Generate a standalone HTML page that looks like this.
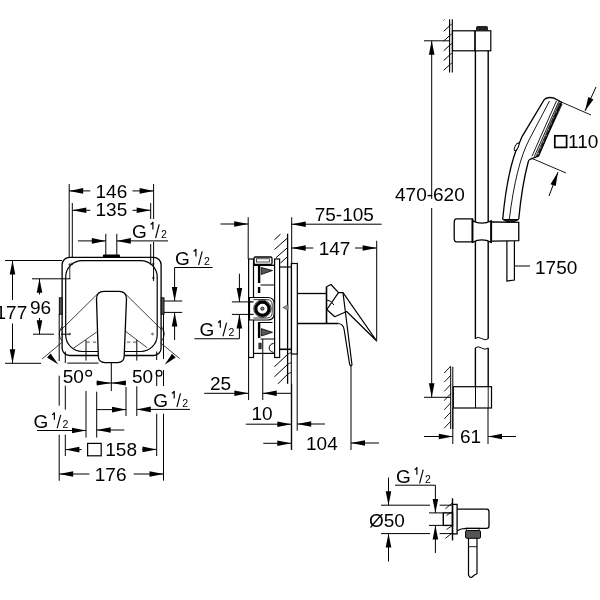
<!DOCTYPE html>
<html><head><meta charset="utf-8"><style>
html,body{margin:0;padding:0;background:#fff;width:600px;height:600px;overflow:hidden}
svg{display:block;will-change:transform}
text{font-family:"Liberation Sans",sans-serif;fill:#000;stroke:none}
</style></head><body>
<svg width="600" height="600" viewBox="0 0 600 600" stroke="#000" fill="none">
<line x1="69.2" y1="184" x2="69.2" y2="257.3" stroke-width="1.0"/>
<line x1="72.3" y1="203" x2="72.3" y2="257.3" stroke-width="1.0"/>
<line x1="69.8" y1="264" x2="69.8" y2="279" stroke-width="0.8"/>
<line x1="153.6" y1="184" x2="153.6" y2="219" stroke-width="1.0"/>
<line x1="153.6" y1="242" x2="153.6" y2="281" stroke-width="1.0"/>
<line x1="150.7" y1="203" x2="150.7" y2="219" stroke-width="1.0"/>
<line x1="150.7" y1="244" x2="150.7" y2="265" stroke-width="1.0"/>
<line x1="90.3" y1="190.9" x2="69.2" y2="190.9" stroke-width="1.0"/>
<polygon points="69.2,190.9 83.2,188.1 83.2,193.7" fill="#000" stroke="none"/>
<line x1="132.5" y1="190.9" x2="153.6" y2="190.9" stroke-width="1.0"/>
<polygon points="153.6,190.9 139.6,193.7 139.6,188.1" fill="#000" stroke="none"/>
<text x="95.5" y="197.8" font-size="19" text-anchor="start" >146</text>
<line x1="90.3" y1="210.3" x2="72.3" y2="210.3" stroke-width="1.0"/>
<polygon points="72.3,210.3 86.3,207.5 86.3,213.1" fill="#000" stroke="none"/>
<line x1="132.5" y1="210.3" x2="150.7" y2="210.3" stroke-width="1.0"/>
<polygon points="150.7,210.3 136.7,213.1 136.7,207.5" fill="#000" stroke="none"/>
<text x="95.5" y="216.3" font-size="19" text-anchor="start" >135</text>
<line x1="105.8" y1="233.8" x2="105.8" y2="255" stroke-width="1.0"/>
<line x1="116.8" y1="233.8" x2="116.8" y2="255" stroke-width="1.0"/>
<line x1="77.9" y1="240.9" x2="105.8" y2="240.9" stroke-width="1.0"/>
<polygon points="105.8,240.9 91.8,243.7 91.8,238.1" fill="#000" stroke="none"/>
<line x1="168" y1="240.9" x2="116.8" y2="240.9" stroke-width="1.0"/>
<polygon points="116.8,240.9 130.8,238.1 130.8,243.7" fill="#000" stroke="none"/>
<text x="132" y="238" font-size="19" text-anchor="start" >G</text>
<path d="M 150.6,224.4 Q 152.3,223.7 152.9,222 L 152.9,229.4" fill="none" stroke-width="1.2" />
<line x1="155.6" y1="238" x2="159.2" y2="224.4" stroke-width="1.15"/>
<text x="161" y="238" font-size="10.5" text-anchor="start" >2</text>
<rect x="102.9" y="254.6" width="17.1" height="3.2" rx="1" fill="#000" stroke="none"/>
<rect x="62.1" y="257.3" width="99" height="98.2" rx="7.5" fill="none" stroke-width="1.3"/>
<rect x="65.7" y="260.6" width="91.5" height="90.9" rx="16.5" fill="none" stroke-width="1.2"/>
<circle cx="69.8" cy="264.5" r="0.9" fill="none" stroke-width="0.6"/>
<circle cx="153.3" cy="278" r="0.9" fill="none" stroke-width="0.6"/>
<circle cx="69.8" cy="334" r="0.9" fill="none" stroke-width="0.6"/>
<circle cx="152.5" cy="334" r="0.9" fill="none" stroke-width="0.6"/>
<circle cx="72" cy="264" r="0.9" fill="none" stroke-width="0.6"/>
<circle cx="153" cy="264" r="0.9" fill="none" stroke-width="0.6"/>
<rect x="59.3" y="297.8" width="2.8" height="16.4" rx="0" fill="#555" stroke-width="0.9"/>
<rect x="161.2" y="297.8" width="2.8" height="16.4" rx="0" fill="#555" stroke-width="0.9"/>
<line x1="97" y1="294.5" x2="60.5" y2="330.5" stroke-width="0.75"/>
<path d="M 62,326.5 Q 56.5,334 62,341" fill="none" stroke-width="0.8" />
<line x1="61.5" y1="342.8" x2="42" y2="359" stroke-width="0.75"/>
<polygon points="58.3,364.4 47.05,357.38 50.62,353.59" fill="#000" stroke="none"/>
<line x1="126" y1="294.5" x2="162.5" y2="330.5" stroke-width="0.75"/>
<path d="M 161.5,326.5 Q 167,334 161.5,341" fill="none" stroke-width="0.8" />
<line x1="160.5" y1="342.8" x2="179.6" y2="358.5" stroke-width="0.75"/>
<polygon points="164.7,364.8 171.99,353.73 175.69,357.38" fill="#000" stroke="none"/>
<line x1="73.5" y1="348.2" x2="96.75" y2="332" stroke-width="0.75"/>
<line x1="124.9" y1="330.8" x2="147" y2="347.6" stroke-width="0.75"/>
<line x1="86.5" y1="342.2" x2="89.8" y2="342.2" stroke-width="1.8" stroke="#9a9a9a"/>
<line x1="92.8" y1="342.2" x2="96.2" y2="342.2" stroke-width="1.8" stroke="#9a9a9a"/>
<line x1="127" y1="342.2" x2="130.5" y2="342.2" stroke-width="1.8" stroke="#9a9a9a"/>
<line x1="133" y1="342.2" x2="136.5" y2="342.2" stroke-width="1.8" stroke="#9a9a9a"/>
<line x1="67.3" y1="363.1" x2="98.5" y2="363.1" stroke-width="1.0"/>
<path d="M 96.5,299 Q 96.5,291.4 104,291.4 L 119,291.4 Q 126.5,291.4 126.5,299 L 124.2,356 Q 124,362.6 117.5,362.6 L 105,362.6 Q 98.5,362.6 98.3,356 Z" fill="#fff" stroke-width="1.3" />
<line x1="174.6" y1="267.5" x2="212.5" y2="267.5" stroke-width="1.0"/>
<line x1="174.6" y1="267.5" x2="174.6" y2="301" stroke-width="1.0"/>
<polygon points="174.6,301 171.8,287 177.4,287" fill="#000" stroke="none"/>
<line x1="164" y1="301" x2="182.2" y2="301" stroke-width="1.0"/>
<line x1="164" y1="312.4" x2="182.2" y2="312.4" stroke-width="1.0"/>
<line x1="174.6" y1="340" x2="174.6" y2="312.4" stroke-width="1.0"/>
<polygon points="174.6,312.4 177.4,326.4 171.8,326.4" fill="#000" stroke="none"/>
<text x="175" y="265" font-size="19" text-anchor="start" >G</text>
<path d="M 193.6,251.4 Q 195.3,250.7 195.9,249 L 195.9,256.4" fill="none" stroke-width="1.2" />
<line x1="198.6" y1="265" x2="202.2" y2="251.4" stroke-width="1.15"/>
<text x="204" y="265" font-size="10.5" text-anchor="start" >2</text>
<line x1="5" y1="260.5" x2="62" y2="260.5" stroke-width="1.0"/>
<line x1="5" y1="363.3" x2="41" y2="363.3" stroke-width="1.0"/>
<line x1="12.5" y1="300" x2="12.5" y2="260.5" stroke-width="1.0"/>
<polygon points="12.5,260.5 15.3,274.5 9.7,274.5" fill="#000" stroke="none"/>
<line x1="12.5" y1="323.5" x2="12.5" y2="363.3" stroke-width="1.0"/>
<polygon points="12.5,363.3 9.7,349.3 15.3,349.3" fill="#000" stroke="none"/>
<text x="-4.5" y="319" font-size="19" text-anchor="start" >177</text>
<line x1="32" y1="278.8" x2="70.4" y2="278.8" stroke-width="1.0"/>
<line x1="33" y1="334.2" x2="54" y2="334.2" stroke-width="1.0"/>
<line x1="61" y1="334.2" x2="69.7" y2="334.2" stroke-width="1.0"/>
<line x1="39.5" y1="294.5" x2="39.5" y2="278.8" stroke-width="1.0"/>
<polygon points="39.5,278.8 42.3,292.8 36.7,292.8" fill="#000" stroke="none"/>
<line x1="39.5" y1="318" x2="39.5" y2="334.2" stroke-width="1.0"/>
<polygon points="39.5,334.2 36.7,320.2 42.3,320.2" fill="#000" stroke="none"/>
<text x="30" y="314" font-size="19" text-anchor="start" >96</text>
<text x="62.7" y="383" font-size="19" text-anchor="start" >50</text>
<circle cx="88.7" cy="373.3" r="2.9" fill="none" stroke-width="1.2"/>
<text x="132" y="383" font-size="19" text-anchor="start" >50</text>
<circle cx="159" cy="373.3" r="2.9" fill="none" stroke-width="1.2"/>
<line x1="111.3" y1="362.6" x2="111.3" y2="391" stroke-width="1.0"/>
<line x1="96.7" y1="383" x2="126" y2="383" stroke-width="1.0"/>
<polygon points="111.3,383 96.7,385.4 96.7,380.6" fill="#000" stroke="none"/>
<polygon points="111.3,383 125.9,380.6 125.9,385.4" fill="#000" stroke="none"/>
<line x1="59.2" y1="314" x2="59.2" y2="361" stroke-width="1.0"/>
<line x1="59.2" y1="375.7" x2="59.2" y2="405.7" stroke-width="1.0"/>
<line x1="59.2" y1="434.7" x2="59.2" y2="480.8" stroke-width="1.0"/>
<line x1="65.3" y1="351.5" x2="65.3" y2="363" stroke-width="1.0"/>
<line x1="65.3" y1="385.7" x2="65.3" y2="409.7" stroke-width="1.0"/>
<line x1="65.3" y1="434.7" x2="65.3" y2="456" stroke-width="1.0"/>
<line x1="86" y1="340" x2="86" y2="360.6" stroke-width="1.0"/>
<line x1="86" y1="391" x2="86" y2="437.6" stroke-width="1.0"/>
<line x1="96.7" y1="391.7" x2="96.7" y2="437.6" stroke-width="1.0"/>
<line x1="126" y1="387" x2="126" y2="416" stroke-width="1.0"/>
<line x1="136.8" y1="340" x2="136.8" y2="360.6" stroke-width="1.0"/>
<line x1="136.8" y1="386.3" x2="136.8" y2="416" stroke-width="1.0"/>
<line x1="156.7" y1="351.5" x2="156.7" y2="360" stroke-width="1.0"/>
<line x1="156.7" y1="370" x2="156.7" y2="386" stroke-width="1.0"/>
<line x1="156.7" y1="413.7" x2="156.7" y2="456" stroke-width="1.0"/>
<line x1="163.5" y1="314" x2="163.5" y2="359" stroke-width="1.0"/>
<line x1="163.5" y1="370" x2="163.5" y2="386" stroke-width="1.0"/>
<line x1="163.5" y1="413.7" x2="163.5" y2="480.7" stroke-width="1.0"/>
<line x1="37" y1="430.5" x2="86" y2="430.5" stroke-width="1.0"/>
<polygon points="86,430.5 72,433.3 72,427.7" fill="#000" stroke="none"/>
<line x1="124.3" y1="430" x2="96.7" y2="430" stroke-width="1.0"/>
<polygon points="96.7,430 110.7,427.2 110.7,432.8" fill="#000" stroke="none"/>
<text x="33.5" y="428.4" font-size="19" text-anchor="start" >G</text>
<path d="M 52.1,414.8 Q 53.8,414.1 54.4,412.4 L 54.4,419.8" fill="none" stroke-width="1.2" />
<line x1="57.1" y1="428.4" x2="60.7" y2="414.8" stroke-width="1.15"/>
<text x="62.5" y="428.4" font-size="10.5" text-anchor="start" >2</text>
<line x1="96.7" y1="409.6" x2="126" y2="409.6" stroke-width="1.0"/>
<polygon points="126,409.6 112,412.4 112,406.8" fill="#000" stroke="none"/>
<line x1="190" y1="409.4" x2="136.8" y2="409.4" stroke-width="1.0"/>
<polygon points="136.8,409.4 150.8,406.6 150.8,412.2" fill="#000" stroke="none"/>
<text x="153.3" y="407" font-size="19" text-anchor="start" >G</text>
<path d="M 171.9,393.4 Q 173.6,392.7 174.2,391 L 174.2,398.4" fill="none" stroke-width="1.2" />
<line x1="176.9" y1="407" x2="180.5" y2="393.4" stroke-width="1.15"/>
<text x="182.3" y="407" font-size="10.5" text-anchor="start" >2</text>
<line x1="81.7" y1="449.6" x2="65.4" y2="449.6" stroke-width="1.0"/>
<polygon points="65.4,449.6 79.4,446.8 79.4,452.4" fill="#000" stroke="none"/>
<line x1="142.3" y1="449.4" x2="156.5" y2="449.4" stroke-width="1.0"/>
<polygon points="156.5,449.4 142.5,452.2 142.5,446.6" fill="#000" stroke="none"/>
<rect x="87.6" y="443.4" width="13.6" height="12.4" rx="0" fill="none" stroke-width="1.2"/>
<text x="105.3" y="456.3" font-size="19" text-anchor="start" >158</text>
<line x1="89.4" y1="474" x2="59.2" y2="474" stroke-width="1.0"/>
<polygon points="59.2,474 73.2,471.2 73.2,476.8" fill="#000" stroke="none"/>
<line x1="133.7" y1="474" x2="163.5" y2="474" stroke-width="1.0"/>
<polygon points="163.5,474 149.5,476.8 149.5,471.2" fill="#000" stroke="none"/>
<text x="94.8" y="480.8" font-size="19" text-anchor="start" >176</text>
<line x1="220.5" y1="224" x2="248.2" y2="224" stroke-width="1.0"/>
<polygon points="248.2,224 234.2,226.8 234.2,221.2" fill="#000" stroke="none"/>
<line x1="248.2" y1="217.2" x2="248.2" y2="259" stroke-width="1.0"/>
<line x1="291.7" y1="217.2" x2="291.7" y2="263" stroke-width="1.0"/>
<line x1="381.7" y1="224.2" x2="291.7" y2="224.2" stroke-width="1.0"/>
<polygon points="291.7,224.2 305.7,221.4 305.7,227" fill="#000" stroke="none"/>
<text x="314.7" y="220.8" font-size="19" text-anchor="start" >75-105</text>
<line x1="313.3" y1="248" x2="291.7" y2="248" stroke-width="1.0"/>
<polygon points="291.7,248 305.7,245.2 305.7,250.8" fill="#000" stroke="none"/>
<line x1="355" y1="248" x2="376.7" y2="248" stroke-width="1.0"/>
<polygon points="376.7,248 362.7,250.8 362.7,245.2" fill="#000" stroke="none"/>
<text x="318.7" y="255" font-size="19" text-anchor="start" >147</text>
<line x1="376.7" y1="240.8" x2="376.7" y2="340" stroke-width="1.0"/>
<line x1="287.6" y1="233.7" x2="287.6" y2="383.8" stroke-width="1.3"/>
<line x1="291.3" y1="263" x2="291.3" y2="450" stroke-width="1.0"/>
<line x1="274.5" y1="239.7" x2="280.5" y2="234.2" stroke-width="1.0"/>
<line x1="274.5" y1="249.5" x2="288" y2="237.5" stroke-width="1.0"/>
<line x1="276" y1="257.7" x2="288" y2="247.2" stroke-width="1.0"/>
<line x1="280.5" y1="263" x2="288" y2="256.2" stroke-width="1.0"/>
<line x1="274.4" y1="366.8" x2="288" y2="354" stroke-width="1.0"/>
<line x1="274.4" y1="376.8" x2="288" y2="364" stroke-width="1.0"/>
<line x1="278" y1="383.8" x2="288" y2="373.8" stroke-width="1.0"/>
<line x1="288" y1="354" x2="291.3" y2="352.5" stroke-width="0.8"/>
<line x1="288" y1="364" x2="291.3" y2="362.5" stroke-width="0.8"/>
<line x1="288" y1="373.8" x2="291.3" y2="372.3" stroke-width="0.8"/>
<line x1="280" y1="267" x2="292" y2="267" stroke-width="1.2"/>
<line x1="280" y1="349.3" x2="292" y2="349.3" stroke-width="1.6"/>
<rect x="248.6" y="259" width="4.9" height="98.5" rx="0" fill="none" stroke-width="1.2"/>
<rect x="274.6" y="259" width="5" height="98.5" rx="0" fill="none" stroke-width="1.2"/>
<rect x="291.5" y="263.5" width="5.8" height="90.5" rx="0" fill="none" stroke-width="1.2"/>
<rect x="254" y="257" width="18" height="7.5" rx="1.5" fill="none" stroke-width="1.3"/>
<rect x="256.5" y="258.8" width="13" height="3.2" rx="0" fill="none" stroke-width="0.7"/>
<line x1="253.5" y1="265.3" x2="274.6" y2="265.3" stroke-width="1.4"/>
<line x1="253.5" y1="353.4" x2="274.6" y2="353.4" stroke-width="1.2"/>
<rect x="257.9" y="266" width="2.4" height="17" rx="0" fill="#000" stroke="none"/>
<rect x="257.9" y="287" width="2.4" height="6" rx="0" fill="#000" stroke="none"/>
<line x1="260.5" y1="285" x2="274.6" y2="285" stroke-width="1.0"/>
<polygon points="261.3,267.5 261.3,274.5 272.5,270.5" fill="#555" stroke="#000" stroke-width="0.8"/>
<polygon points="282.8,307.5 288,304.8 288,310.2" fill="#999" stroke="#333" stroke-width="0.6"/>
<path d="M 249.5,297.5 L 267.5,297.5 Q 274.2,297.5 274.2,304 L 274.2,313.5 Q 274.2,320 267.5,320 L 249.5,320 Z" fill="#fff" stroke-width="1.2"/>
<path d="M 253.5,299.6 L 266.8,299.6 Q 272.2,299.6 272.2,305 L 272.2,312.5 Q 272.2,318 266.8,318 L 253.5,318" fill="none" stroke-width="0.8" />
<line x1="249.5" y1="301.9" x2="253.5" y2="301.9" stroke-width="0.8"/>
<line x1="249.5" y1="314.4" x2="253.5" y2="314.4" stroke-width="0.8"/>
<circle cx="262.4" cy="308.7" r="6.6" fill="none" stroke-width="3.2"/>
<circle cx="262.4" cy="308.7" r="8.7" fill="none" stroke-width="0.7"/>
<circle cx="262.4" cy="308.7" r="1.6" fill="#888" stroke-width="0.8"/>
<rect x="257.9" y="323" width="2.4" height="15" rx="0" fill="#000" stroke="none"/>
<line x1="253.5" y1="320" x2="253.5" y2="353.4" stroke-width="1.0"/>
<polygon points="261.3,328.6 261.3,336 272.5,332.3" fill="#555" stroke="#000" stroke-width="0.8"/>
<line x1="257.9" y1="322.5" x2="272.5" y2="322.5" stroke-width="1.0"/>
<line x1="260.5" y1="339" x2="274.6" y2="339" stroke-width="1.0"/>
<rect x="258.4" y="342.7" width="3.3" height="6.5" rx="0" fill="#333" stroke="none"/>
<path d="M 273.6,343.5 A 4.3,4.3 0 0 0 273.6,352.3" fill="none" stroke-width="1.0" />
<line x1="231.9" y1="301.9" x2="248.6" y2="301.9" stroke-width="1.0"/>
<line x1="231.9" y1="314.4" x2="248.6" y2="314.4" stroke-width="1.0"/>
<line x1="248.6" y1="301.9" x2="253.5" y2="301.9" stroke-width="0.8"/>
<line x1="248.6" y1="314.4" x2="253.5" y2="314.4" stroke-width="0.8"/>
<line x1="239.4" y1="273.75" x2="239.4" y2="301.9" stroke-width="1.0"/>
<polygon points="239.4,301.9 236.6,287.9 242.2,287.9" fill="#000" stroke="none"/>
<line x1="239.4" y1="338.75" x2="239.4" y2="314.4" stroke-width="1.0"/>
<polygon points="239.4,314.4 242.2,328.4 236.6,328.4" fill="#000" stroke="none"/>
<line x1="194.4" y1="338.75" x2="239.4" y2="338.75" stroke-width="1.0"/>
<text x="199.4" y="336.25" font-size="19" text-anchor="start" >G</text>
<path d="M 218,322.65 Q 219.7,321.95 220.3,320.25 L 220.3,327.65" fill="none" stroke-width="1.2" />
<line x1="223" y1="336.25" x2="226.6" y2="322.65" stroke-width="1.15"/>
<text x="228.4" y="336.25" font-size="10.5" text-anchor="start" >2</text>
<line x1="248.6" y1="357.5" x2="248.6" y2="400" stroke-width="1.0"/>
<line x1="262.75" y1="339" x2="262.75" y2="400" stroke-width="1.0"/>
<line x1="297.2" y1="354" x2="297.2" y2="430.8" stroke-width="1.0"/>
<line x1="297.25" y1="293.5" x2="326.5" y2="293.5" stroke-width="1.3"/>
<line x1="297.25" y1="323.5" x2="338.5" y2="323.5" stroke-width="1.3"/>
<line x1="326.5" y1="286.7" x2="326.5" y2="323.5" stroke-width="1.6"/>
<polyline points="326.5,286.7 331,284.5 338.5,292.7 343,292.7 376.7,341 346.7,311.5 334.7,316.7 326.5,309.2" fill="none" stroke-width="1.2" stroke-linejoin="round"/>
<line x1="338.5" y1="292.7" x2="326.5" y2="310" stroke-width="1.2"/>
<path d="M 326.5,300 Q 331,300 334,305" fill="none" stroke-width="1.0" />
<path d="M 338.5,323.5 Q 343.5,324 344.2,330 L 349.6,364 Q 350.5,367 352,365 L 343,292.7" fill="none" stroke-width="1.2" />
<line x1="204.2" y1="393.3" x2="248.4" y2="393.3" stroke-width="1.0"/>
<polygon points="248.4,393.3 234.4,396.1 234.4,390.5" fill="#000" stroke="none"/>
<line x1="291.5" y1="393.3" x2="262.75" y2="393.3" stroke-width="1.0"/>
<polygon points="262.75,393.3 276.75,390.5 276.75,396.1" fill="#000" stroke="none"/>
<text x="210" y="390" font-size="19" text-anchor="start" >25</text>
<line x1="291.7" y1="383.8" x2="291.7" y2="450" stroke-width="1.0"/>
<line x1="245.8" y1="424.2" x2="291.3" y2="424.2" stroke-width="1.0"/>
<polygon points="291.3,424.2 277.3,427 277.3,421.4" fill="#000" stroke="none"/>
<line x1="325" y1="424" x2="297.2" y2="424" stroke-width="1.0"/>
<polygon points="297.2,424 311.2,421.2 311.2,426.8" fill="#000" stroke="none"/>
<text x="251.5" y="420" font-size="19" text-anchor="start" >10</text>
<line x1="263.3" y1="443.3" x2="291.3" y2="443.3" stroke-width="1.0"/>
<polygon points="291.3,443.3 277.3,446.1 277.3,440.5" fill="#000" stroke="none"/>
<line x1="379" y1="443" x2="351" y2="443" stroke-width="1.0"/>
<polygon points="351,443 365,440.2 365,445.8" fill="#000" stroke="none"/>
<line x1="351" y1="365" x2="351" y2="450" stroke-width="1.0"/>
<text x="306" y="450" font-size="19" text-anchor="start" >104</text>
<line x1="449.6" y1="19.3" x2="449.6" y2="72.4" stroke-width="1.1"/>
<line x1="452.3" y1="19.3" x2="452.3" y2="72.4" stroke-width="1.1"/>
<line x1="443.7" y1="31.3" x2="449.6" y2="25.8" stroke-width="1.0"/>
<line x1="449.6" y1="25.8" x2="452.3" y2="23.6" stroke-width="0.8"/>
<line x1="443.7" y1="41.05" x2="449.6" y2="35.55" stroke-width="1.0"/>
<line x1="449.6" y1="35.55" x2="452.3" y2="33.35" stroke-width="0.8"/>
<line x1="443.7" y1="50.8" x2="449.6" y2="45.3" stroke-width="1.0"/>
<line x1="449.6" y1="45.3" x2="452.3" y2="43.1" stroke-width="0.8"/>
<line x1="443.7" y1="60.55" x2="449.6" y2="55.05" stroke-width="1.0"/>
<line x1="449.6" y1="55.05" x2="452.3" y2="52.85" stroke-width="0.8"/>
<line x1="443.7" y1="70.3" x2="449.6" y2="64.8" stroke-width="1.0"/>
<line x1="449.6" y1="64.8" x2="452.3" y2="62.6" stroke-width="0.8"/>
<line x1="443.5" y1="20.5" x2="444.5" y2="19.5" stroke-width="0.8"/>
<rect x="452.5" y="30.8" width="22.5" height="20" rx="0" fill="none" stroke-width="1.2"/>
<rect x="475" y="30.8" width="15.8" height="20" rx="0" fill="none" stroke-width="1.2"/>
<rect x="476" y="26" width="12" height="5" rx="1.5" fill="#222" stroke="none"/>
<line x1="475.4" y1="50.8" x2="475.4" y2="338.7" stroke-width="1.4"/>
<line x1="488.2" y1="50.8" x2="488.2" y2="338.7" stroke-width="1.4"/>
<line x1="475.4" y1="348" x2="475.4" y2="386.7" stroke-width="1.4"/>
<line x1="488.2" y1="348" x2="488.2" y2="386.7" stroke-width="1.4"/>
<path d="M 475,338.7 Q 478,336 481.6,338.5 Q 485,341 488.3,338.7" fill="none" stroke-width="1.0" />
<path d="M 475,348 Q 478,345.5 481.6,348 Q 485,350.5 488.3,348" fill="none" stroke-width="1.0" />
<line x1="424" y1="40.8" x2="450" y2="40.8" stroke-width="1.0"/>
<line x1="431.7" y1="199" x2="431.7" y2="40.8" stroke-width="1.0"/>
<polygon points="431.7,40.8 434.5,54.8 428.9,54.8" fill="#000" stroke="none"/>
<line x1="431.7" y1="208" x2="431.7" y2="397.3" stroke-width="1.0"/>
<polygon points="431.7,397.3 428.9,383.3 434.5,383.3" fill="#000" stroke="none"/>
<text x="395" y="201" font-size="19" text-anchor="start" >470-620</text>
<rect x="453.3" y="386.7" width="38.2" height="21.3" rx="0" fill="none" stroke-width="1.2"/>
<line x1="475.5" y1="386.7" x2="475.5" y2="408" stroke-width="1.0"/>
<line x1="450.7" y1="366.7" x2="450.7" y2="429" stroke-width="1.0"/>
<line x1="452.8" y1="366.7" x2="452.8" y2="429" stroke-width="1.0"/>
<line x1="444.2" y1="373" x2="450.8" y2="366" stroke-width="0.9"/>
<line x1="444.2" y1="382.2" x2="450.8" y2="375.2" stroke-width="0.9"/>
<line x1="444.2" y1="391.4" x2="450.8" y2="384.4" stroke-width="0.9"/>
<line x1="444.2" y1="400.6" x2="450.8" y2="393.6" stroke-width="0.9"/>
<line x1="444.2" y1="409.8" x2="450.8" y2="402.8" stroke-width="0.9"/>
<line x1="444.2" y1="419" x2="450.8" y2="412" stroke-width="0.9"/>
<line x1="444.2" y1="428.2" x2="450.8" y2="421.2" stroke-width="0.9"/>
<line x1="488.2" y1="386.7" x2="488.2" y2="408" stroke-width="0.9"/>
<line x1="424" y1="397.3" x2="450" y2="397.3" stroke-width="1.0"/>
<line x1="424" y1="436.5" x2="452.8" y2="436.5" stroke-width="1.0"/>
<polygon points="452.8,436.5 438.8,439.3 438.8,433.7" fill="#000" stroke="none"/>
<line x1="516" y1="436.5" x2="488" y2="436.5" stroke-width="1.0"/>
<polygon points="488,436.5 502,433.7 502,439.3" fill="#000" stroke="none"/>
<line x1="452.8" y1="408" x2="452.8" y2="444" stroke-width="1.0"/>
<line x1="488" y1="408" x2="488" y2="444" stroke-width="1.0"/>
<text x="460" y="443" font-size="19" text-anchor="start" >61</text>
<path d="M 456.5,218.8 L 472.5,218.8 L 472.5,241.9 L 456.5,241.9 Q 454.2,241.9 454.2,238 L 454.2,222.5 Q 454.2,218.8 456.5,218.8 Z" fill="#fff" stroke-width="1.3" />
<path d="M 472.5,220.8 Q 481.9,225.5 491.25,220.8 L 491.25,242.3 Q 481.9,237.6 472.5,242.3 Z" fill="#fff" stroke-width="1.3" />
<path d="M 491.25,221.9 L 518.75,222.4 L 518.75,240.6 L 491.25,241.2 Z" fill="#fff" stroke-width="1.3" />
<line x1="472.5" y1="218.8" x2="472.5" y2="242.3" stroke-width="1.7"/>
<line x1="491.25" y1="220.8" x2="491.25" y2="242.3" stroke-width="1.7"/>
<path d="M 506.9,241 L 506.9,281 L 514.4,280 L 514.4,241" fill="none" stroke-width="1.2" />
<line x1="514.4" y1="266" x2="530" y2="266" stroke-width="1.0"/>
<text x="535" y="273.8" font-size="19" text-anchor="start" >1750</text>
<polygon points="559.2,102.2 562.6,104.2 538.6,156 535.2,157.2" fill="#333" stroke="none"/>
<circle cx="559.57" cy="106.17" r="0.8" fill="#bbb" stroke="none"/>
<circle cx="556.90" cy="112.10" r="0.8" fill="#bbb" stroke="none"/>
<circle cx="554.23" cy="118.03" r="0.8" fill="#bbb" stroke="none"/>
<circle cx="551.57" cy="123.97" r="0.8" fill="#bbb" stroke="none"/>
<circle cx="548.90" cy="129.90" r="0.8" fill="#bbb" stroke="none"/>
<circle cx="546.23" cy="135.83" r="0.8" fill="#bbb" stroke="none"/>
<circle cx="543.57" cy="141.77" r="0.8" fill="#bbb" stroke="none"/>
<circle cx="540.90" cy="147.70" r="0.8" fill="#bbb" stroke="none"/>
<circle cx="538.23" cy="153.63" r="0.8" fill="#bbb" stroke="none"/>
<path d="M 502.7,219.3 C 505,195 509,170 515.5,152 L 522.2,136.3 L 544.2,99.6 Q 548,96.3 554,98.2 L 561.5,102.3 L 538.6,156 L 530,159.3 Q 528.7,160 528.2,162 Q 522,185 518.7,219.3" fill="none" stroke-width="1.3" />
<path d="M 549.5,101 L 529,140 Q 516,165 509.3,219.3" fill="none" stroke-width="0.9" />
<line x1="556.5" y1="100.8" x2="532" y2="156.2" stroke-width="0.9"/>
<line x1="558.7" y1="101.6" x2="534.2" y2="156.8" stroke-width="0.9"/>
<ellipse cx="516.6" cy="146.8" rx="1.6" ry="4.2" transform="rotate(25 516.6 146.8)" fill="#fff" stroke-width="1"/>
<path d="M 502.7,219.5 Q 510.7,224.5 518.7,219.5 Z" fill="#222" stroke-width="1.0" />
<line x1="559" y1="101" x2="591" y2="115" stroke-width="0.9"/>
<line x1="596" y1="87" x2="585" y2="111" stroke-width="1.0"/>
<polygon points="585,111 588.29,97.11 593.38,99.44" fill="#000" stroke="none"/>
<line x1="531" y1="158" x2="566" y2="173" stroke-width="0.9"/>
<line x1="549" y1="196" x2="558" y2="172" stroke-width="1.0"/>
<polygon points="558,172 555.71,186.09 550.46,184.13" fill="#000" stroke="none"/>
<rect x="554.8" y="135.8" width="11.8" height="11.6" rx="0" fill="none" stroke-width="1.7"/>
<text x="568" y="148" font-size="19" text-anchor="start" >110</text>
<text x="396" y="483.3" font-size="19" text-anchor="start" >G</text>
<path d="M 414.6,469.7 Q 416.3,469 416.9,467.3 L 416.9,474.7" fill="none" stroke-width="1.2" />
<line x1="419.6" y1="483.3" x2="423.2" y2="469.7" stroke-width="1.15"/>
<text x="425" y="483.3" font-size="10.5" text-anchor="start" >2</text>
<line x1="395" y1="485.2" x2="435.4" y2="485.2" stroke-width="1.0"/>
<line x1="435.4" y1="485.2" x2="435.4" y2="512.9" stroke-width="1.0"/>
<polygon points="435.4,512.9 432.6,498.9 438.2,498.9" fill="#000" stroke="none"/>
<line x1="435.4" y1="553" x2="435.4" y2="525.4" stroke-width="1.0"/>
<polygon points="435.4,525.4 438.2,539.4 432.6,539.4" fill="#000" stroke="none"/>
<line x1="381" y1="505.2" x2="430" y2="505.2" stroke-width="1.0"/>
<line x1="381" y1="533.6" x2="430" y2="533.6" stroke-width="1.0"/>
<line x1="439.6" y1="505.2" x2="452.5" y2="505.2" stroke-width="1.0"/>
<line x1="439.6" y1="533.6" x2="452.5" y2="533.6" stroke-width="1.0"/>
<line x1="429" y1="512.9" x2="443.3" y2="512.9" stroke-width="1.0"/>
<line x1="429" y1="525.4" x2="443.3" y2="525.4" stroke-width="1.0"/>
<line x1="388.5" y1="477.5" x2="388.5" y2="505.2" stroke-width="1.0"/>
<polygon points="388.5,505.2 385.7,491.2 391.3,491.2" fill="#000" stroke="none"/>
<line x1="388.5" y1="561.5" x2="388.5" y2="533.6" stroke-width="1.0"/>
<polygon points="388.5,533.6 391.3,547.6 385.7,547.6" fill="#000" stroke="none"/>
<text x="369" y="526.5" font-size="19" text-anchor="start" >Ø50</text>
<line x1="452.5" y1="498.3" x2="452.5" y2="540.4" stroke-width="1.4"/>
<line x1="445.4" y1="508.75" x2="452.5" y2="502.9" stroke-width="0.9"/>
<line x1="445.4" y1="538.3" x2="452.5" y2="532.9" stroke-width="0.9"/>
<line x1="446.5" y1="529.5" x2="452.5" y2="525.5" stroke-width="0.9"/>
<line x1="446.5" y1="515.5" x2="452.5" y2="511.5" stroke-width="0.9"/>
<rect x="443.3" y="512.9" width="9.2" height="12.5" rx="0" fill="none" stroke-width="1.4"/>
<rect x="452.5" y="504.4" width="4.6" height="29.5" rx="0" fill="none" stroke-width="1.3"/>
<path d="M 457.1,509.2 L 486.5,509.2 Q 489,509.2 489,511.7 L 489,526 Q 489,528.3 486.5,528.3 L 466,528.3 Q 461,528.3 457.1,530.8" fill="none" stroke-width="1.3" />
<rect x="466.3" y="528.3" width="12.7" height="2.4" rx="0" fill="none" stroke-width="0.9"/>
<rect x="465.6" y="530.6" width="14.9" height="7.7" rx="1.2" fill="#555" stroke-width="1.0"/>
<path d="M 468.5,538.3 L 468.5,575 Q 470,578.5 472,577 Q 474.5,574.5 477,573.7 L 477,538.3" fill="none" stroke-width="1.2" />
<line x1="468.5" y1="546.7" x2="477" y2="546.7" stroke-width="0.9"/>
</svg>
</body></html>
